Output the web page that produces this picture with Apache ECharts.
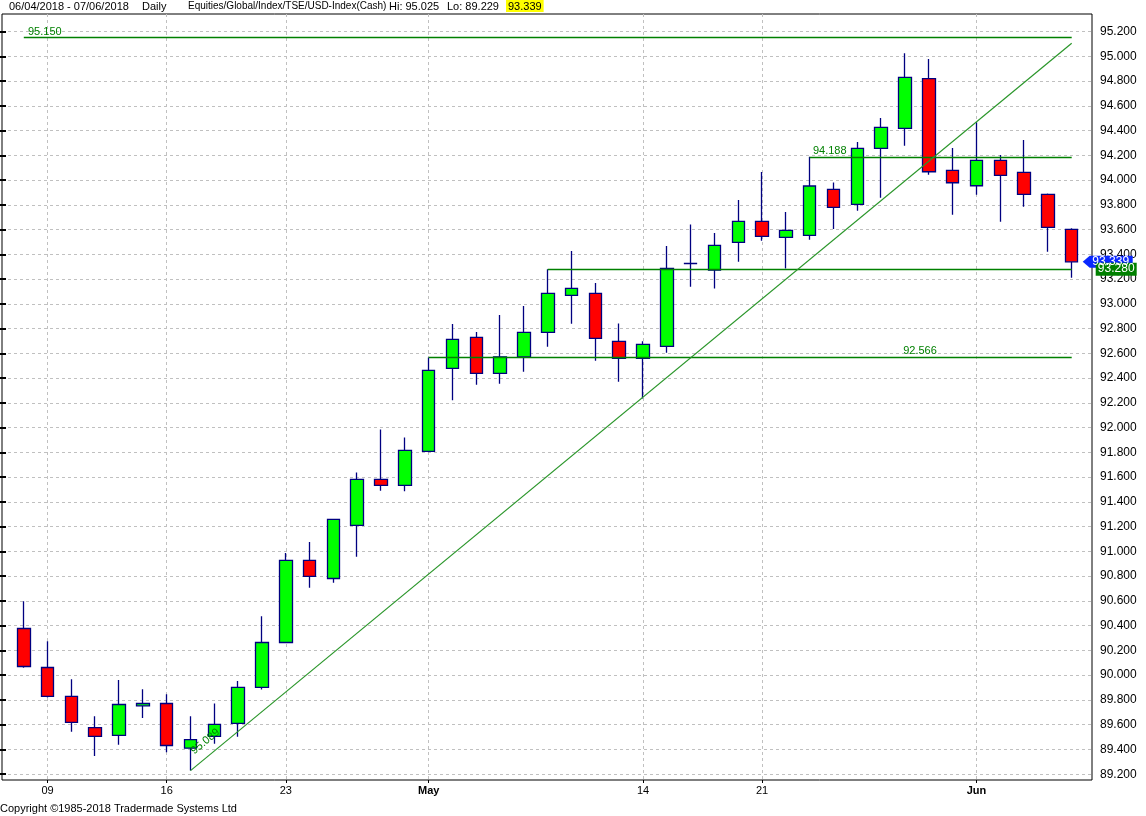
<!DOCTYPE html>
<html><head><meta charset="utf-8">
<script src="https://cdn.jsdelivr.net/npm/echarts@6/dist/echarts.min.js"></script>
<style>html,body{margin:0;padding:0;background:#fff;}#c{width:1146px;height:816px;}</style>
</head><body><div id="c"></div>
<script>
const dates = ['2018-04-06','2018-04-09','2018-04-10','2018-04-11','2018-04-12','2018-04-13','2018-04-16','2018-04-17','2018-04-18','2018-04-19','2018-04-20','2018-04-23','2018-04-24','2018-04-25','2018-04-26','2018-04-27','2018-04-30','2018-05-01','2018-05-02','2018-05-03','2018-05-04','2018-05-07','2018-05-08','2018-05-09','2018-05-10','2018-05-11','2018-05-14','2018-05-15','2018-05-16','2018-05-17','2018-05-18','2018-05-21','2018-05-22','2018-05-23','2018-05-24','2018-05-25','2018-05-28','2018-05-29','2018-05-30','2018-05-31','2018-06-01','2018-06-04','2018-06-05','2018-06-06','2018-06-07'];
const opens  = [90.377,90.062,89.828,89.577,89.513,89.752,89.771,89.410,89.505,89.610,89.901,90.264,90.927,90.781,91.210,91.581,91.533,91.808,92.478,92.729,92.438,92.572,92.769,93.068,93.084,92.697,92.559,92.656,93.324,93.272,93.496,93.666,93.537,93.553,93.925,93.804,94.256,94.418,94.819,94.078,93.954,94.159,94.062,93.884,93.602];
const closes = [90.070,89.828,89.618,89.505,89.763,89.771,89.432,89.480,89.602,89.901,90.264,90.927,90.798,91.258,91.581,91.533,91.816,92.462,92.713,92.438,92.572,92.769,93.084,93.125,92.721,92.559,92.672,93.286,93.326,93.472,93.666,93.545,93.593,93.952,93.779,94.256,94.426,94.830,94.067,93.978,94.159,94.038,93.884,93.618,93.339];
const lows   = [90.059,89.820,89.542,89.348,89.437,89.655,89.378,89.229,89.445,89.502,89.885,90.260,90.706,90.746,90.956,91.489,91.485,91.800,92.222,92.346,92.354,92.451,92.653,92.839,92.540,92.370,92.236,92.604,93.138,93.124,93.340,93.510,93.286,93.518,93.604,93.752,93.857,94.277,94.043,93.720,93.881,93.663,93.784,93.421,93.210];
const highs  = [90.598,90.275,89.968,89.669,89.960,89.887,89.846,89.669,89.771,89.952,90.477,90.988,91.075,91.262,91.638,91.985,91.921,92.566,92.836,92.772,92.909,92.982,93.280,93.426,93.168,92.842,92.697,93.467,93.640,93.572,93.838,94.065,93.741,94.188,93.981,94.307,94.501,95.025,94.978,94.259,94.466,94.202,94.323,93.892,93.610];

const tickDates  = ['2018-04-09','2018-04-16','2018-04-23','2018-05-01','2018-05-14','2018-05-21','2018-06-01'];
const tickLabels = ['09','16','23','May','14','21','Jun'];
const boldTicks  = ['May','Jun'];

const levelValues = [95.150, 94.188, 93.280, 92.566];
const levelStart  = ['2018-04-06','2018-05-23','2018-05-08','2018-05-01'];
const levelEnd    = '2018-06-07';
const trendStart  = ['2018-04-17', 89.229];
const trendEnd    = ['2018-06-07', 95.105];
const trendText   = '95.089';

const yMin = 89.2, yMax = 95.2, yStep = 0.2;

const FONT = '"Liberation Sans", Arial, sans-serif';
const hiVal = Math.max(...highs).toFixed(3);
const loVal = Math.min(...lows).toFixed(3);
const lastClose = closes[closes.length - 1];

const chart = echarts.init(document.getElementById('c'), null, {renderer: 'canvas'});
const candleData = dates.map((d, i) => [opens[i], closes[i], lows[i], highs[i]]);
const isTick = (i, v) => tickDates.indexOf(v) >= 0;
const GREEN = '#008000';

const option = {
  animation: false,
  backgroundColor: '#ffffff',
  textStyle: {fontFamily: FONT},
  graphic: [
    {type: 'text', left: 9, top: 1, style: {text: '06/04/2018 - 07/06/2018', font: '11px ' + FONT, fill: '#000'}},
    {type: 'text', left: 142, top: 1, style: {text: 'Daily', font: '11px ' + FONT, fill: '#000'}},
    {type: 'text', left: 188, top: 1, style: {text: 'Equities/Global/Index/TSE/USD-Index(Cash)', font: '10px ' + FONT, fill: '#000'}},
    {type: 'text', left: 389, top: 1, style: {text: 'Hi: ' + hiVal, font: '11px ' + FONT, fill: '#000'}},
    {type: 'text', left: 447, top: 1, style: {text: 'Lo: ' + loVal, font: '11px ' + FONT, fill: '#000'}},
    {type: 'text', left: 506, top: 0, style: {text: lastClose.toFixed(3), font: '11px ' + FONT, fill: '#000', backgroundColor: '#ffff00', padding: [1, 2, 0, 2]}},
    {type: 'text', left: 0, top: 803, style: {text: 'Copyright \u00a91985-2018 Tradermade Systems Ltd', font: '11px ' + FONT, fill: '#000'}}
  ],
  grid: [
    {left: 23.8, right: 74.3, top: 31.5, bottom: 41.8},
    {left: 23.8, right: 74.3, top: 14, bottom: 36},
    {left: 2, right: 54, top: 31.5, bottom: 41.8},
    {left: 2, right: 54, top: 14, bottom: 36, show: true, borderColor: '#000', borderWidth: 1, backgroundColor: 'transparent'}
  ],
  xAxis: [
    {gridIndex: 0, type: 'category', data: dates, boundaryGap: false, show: false},
    {gridIndex: 1, type: 'category', data: dates, boundaryGap: false,
      axisLine: {show: false},
      axisTick: {show: true, interval: isTick, length: 3, lineStyle: {color: '#000'}},
      axisLabel: {interval: isTick, color: '#000', fontSize: 11, margin: 5, fontFamily: FONT,
        formatter: v => { const k = tickDates.indexOf(v); const t = tickLabels[k] || ''; return boldTicks.indexOf(t) >= 0 ? '{b|' + t + '}' : t; },
        rich: {b: {fontWeight: 'bold', fontSize: 11, color: '#000', fontFamily: FONT}}},
      splitLine: {show: true, interval: isTick, lineStyle: {color: '#c0c0c0', type: [3, 3], width: 1}}
    },
    {gridIndex: 2, type: 'value', min: 0, max: 1, show: false},
    {gridIndex: 3, type: 'value', min: 0, max: 1, show: false}
  ],
  yAxis: [
    {gridIndex: 0, type: 'value', min: yMin, max: yMax, interval: yStep, show: false},
    {gridIndex: 1, type: 'value', min: 0, max: 1, show: false},
    {gridIndex: 2, type: 'value', min: yMin, max: yMax, interval: yStep, position: 'right',
      axisLine: {show: false},
      axisTick: {show: true, inside: true, length: 3, lineStyle: {color: '#000', width: 2}},
      axisLabel: {formatter: v => v.toFixed(3), color: '#000', fontSize: 12, margin: 8, fontFamily: FONT},
      splitLine: {show: true, lineStyle: {color: '#c0c0c0', type: [3, 3], width: 1}}
    },
    {gridIndex: 2, type: 'value', min: yMin, max: yMax, interval: yStep, position: 'left',
      axisLine: {show: false},
      axisTick: {show: true, inside: true, length: 4, lineStyle: {color: '#000', width: 2}},
      axisLabel: {show: false}, splitLine: {show: false}
    },
    {gridIndex: 3, type: 'value', min: 0, max: 1, show: false}
  ],
  series: [{
    type: 'candlestick',
    xAxisIndex: 0, yAxisIndex: 0,
    data: candleData,
    clip: false,
    barWidth: 13,
    itemStyle: {color: '#00ff00', color0: '#ff0000', borderColor: '#000080', borderColor0: '#000080', borderColorDoji: '#000080', borderWidth: 1.3},
    markLine: {
      silent: true, animation: false, symbol: ['none', 'none'], z: 10,
      label: {show: false},
      lineStyle: {color: GREEN, width: 1.3, type: 'solid'},
      data: levelValues.map((v, k) => [{coord: [levelStart[k], v]}, {coord: [levelEnd, v]}]).concat([[
        {coord: trendStart, lineStyle: {color: '#2a962a', width: 1.2, type: 'solid'}},
        {coord: trendEnd}
      ]])
    },
    markPoint: {
      silent: true, animation: false, z: 11,
      data: [
        {coord: [levelStart[0], levelValues[0]], symbol: 'rect', symbolSize: [1, 1], itemStyle: {color: 'rgba(0,0,0,0)'},
          label: {show: true, position: 'inside', formatter: levelValues[0].toFixed(3), color: GREEN, fontSize: 11, fontFamily: FONT, offset: [21, -6]}},
        {coord: [levelStart[1], levelValues[1]], symbol: 'rect', symbolSize: [1, 1], itemStyle: {color: 'rgba(0,0,0,0)'},
          label: {show: true, position: 'inside', formatter: levelValues[1].toFixed(3), color: GREEN, fontSize: 11, fontFamily: FONT, offset: [20, -6]}},
        {coord: ['2018-05-29', levelValues[3]], symbol: 'rect', symbolSize: [1, 1], itemStyle: {color: 'rgba(0,0,0,0)'},
          label: {show: true, position: 'inside', formatter: levelValues[3].toFixed(3), color: GREEN, fontSize: 11, fontFamily: FONT, offset: [15, -7]}},
        {coord: trendStart, symbol: 'rect', symbolSize: [1, 1], itemStyle: {color: 'rgba(0,0,0,0)'},
          label: {show: true, position: 'inside', formatter: trendText, rotate: 39.6, color: GREEN, fontSize: 11, fontFamily: FONT, offset: [30, -13]}},
        {coord: [dates[dates.length - 1], lastClose], symbol: 'path://M0,6 L7,0 L50,0 L50,12 L7,12 Z', symbolSize: [50, 12], symbolOffset: [36, 0],
          itemStyle: {color: '#0a28ff'},
          label: {show: true, position: 'inside', formatter: lastClose.toFixed(3), color: '#fff', fontSize: 12, fontFamily: FONT, offset: [3, 0]}},
        {coord: [levelEnd, levelValues[2]], symbol: 'rect', symbolSize: [41, 13], symbolOffset: [44.5, 0],
          itemStyle: {color: GREEN},
          label: {show: true, position: 'inside', formatter: levelValues[2].toFixed(3), color: '#fff', fontSize: 12, fontFamily: FONT}}
      ]
    }
  }]
};
chart.setOption(option);
</script>
</body></html>
